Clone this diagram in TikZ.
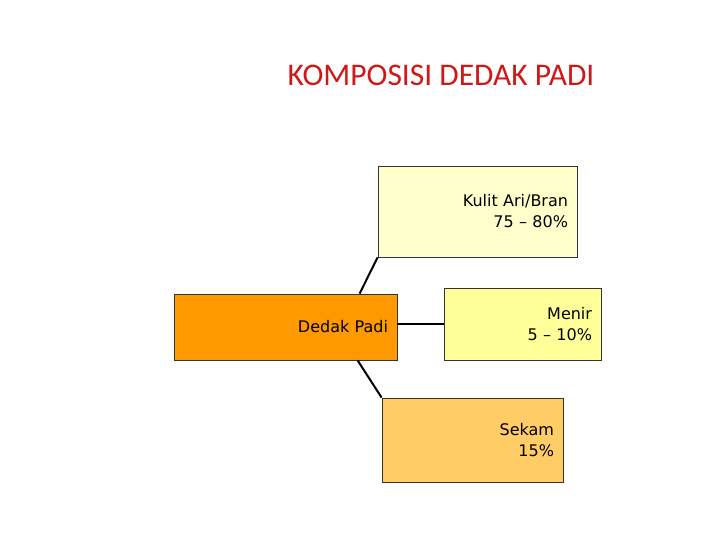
\documentclass[tikz,border=0pt]{standalone}
\usepackage{fontspec}
\setmainfont{DejaVu Sans}
\newfontfamily\titlefont{Carlito}
\definecolor{titlered}{RGB}{208,24,24}
\definecolor{kulitfill}{RGB}{255,255,204}
\definecolor{menirfill}{RGB}{255,255,153}
\definecolor{sekamfill}{RGB}{255,204,102}
\definecolor{dedakfill}{RGB}{255,153,0}
\begin{document}
\begin{tikzpicture}[x=1pt,y=-1pt,
  box/.style={draw=black!80, line width=0.8pt, rectangle, align=right,
    inner xsep=9pt, inner ysep=0pt, font=\fontsize{16}{21}\selectfont},
  link/.style={line width=2pt, black}]
\useasboundingbox (0,0) rectangle (720,540);
\node[text=titlered, font=\titlefont\fontsize{31.5}{36}\selectfont] (title) at (441,75) {KOMPOSISI DEDAK PADI};
\node[box, fill=kulitfill, minimum width=199pt, minimum height=91pt, text width=181pt] (kulit) at (477.5,211.5) {Kulit Ari/Bran\\75 -- 80\%};
\node[box, fill=dedakfill, minimum width=223pt, minimum height=66pt, text width=205pt] (dedak) at (285.5,327) {Dedak Padi};
\node[box, fill=menirfill, minimum width=157pt, minimum height=72pt, text width=139pt] (menir) at (522.5,324) {Menir\\5 -- 10\%};
\node[box, fill=sekamfill, minimum width=181pt, minimum height=84pt, text width=163pt] (sekam) at (472.5,440) {Sekam\\15\%};
\draw[link] (dedak.north west) ++(186,0) -- (kulit.south west);
\draw[link] (dedak.south west) ++(184,0) -- (sekam.north west);
\draw[link] (dedak.east |- menir.west) -- (menir.west);
\end{tikzpicture}
\end{document}
